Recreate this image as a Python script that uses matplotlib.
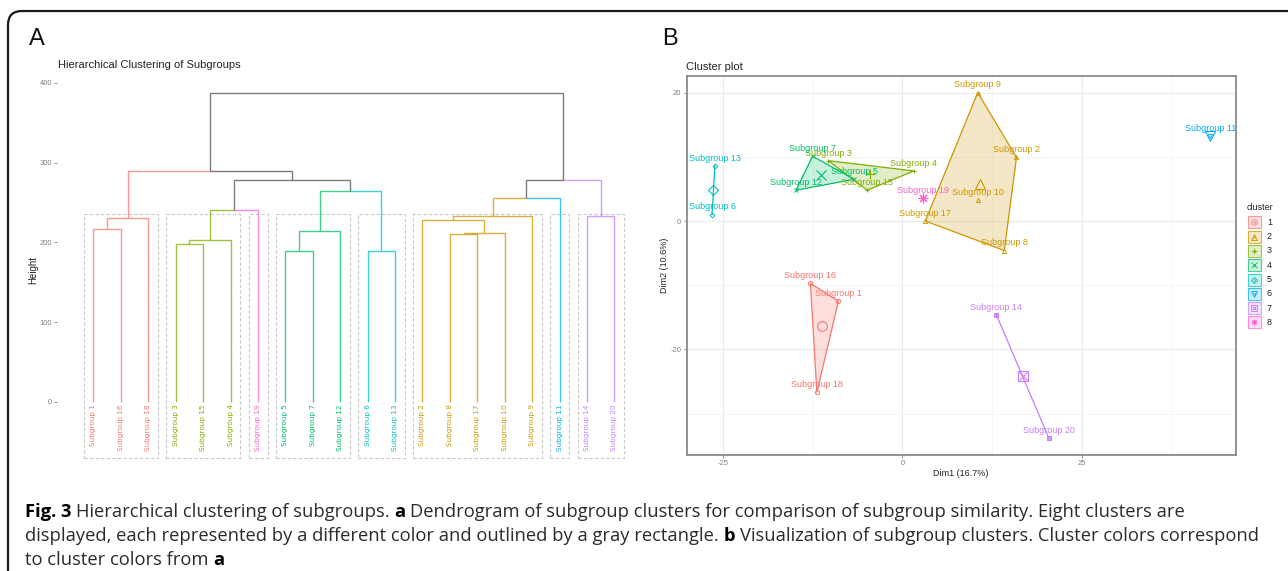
import numpy as np
import matplotlib.pyplot as plt
from matplotlib.patches import FancyBboxPatch, Rectangle, Polygon

plt.rcParams['axes.unicode_minus'] = False

## DATA
# cluster colours (ggplot hue palette, 8 clusters)
palette = {1: '#F8766D', 2: '#CD9600', 3: '#7CAE00', 4: '#00BE67',
           5: '#00BFC4', 6: '#00A9FF', 7: '#C77CFF', 8: '#FF61CC'}

# dendrogram: leaves in plotting order + their cluster
leaf_labels = ['Subgroup 1', 'Subgroup 16', 'Subgroup 18', 'Subgroup 3', 'Subgroup 15',
               'Subgroup 4', 'Subgroup 19', 'Subgroup 5', 'Subgroup 7', 'Subgroup 12',
               'Subgroup 6', 'Subgroup 13', 'Subgroup 2', 'Subgroup 8', 'Subgroup 17',
               'Subgroup 10', 'Subgroup 9', 'Subgroup 11', 'Subgroup 14', 'Subgroup 20']
leaf_cluster = [1, 1, 1, 3, 3, 3, 8, 4, 4, 4, 5, 5, 2, 2, 2, 2, 2, 6, 7, 7]
# merges (left node, right node, height); leaves are 0..19, new nodes numbered from 20
merges = [(0, 1, 217), (20, 2, 231), (3, 4, 197.5), (22, 5, 203), (23, 6, 240),
          (7, 8, 189.5), (25, 9, 214), (10, 11, 189.5), (26, 27, 264), (24, 28, 278),
          (21, 29, 290), (13, 14, 210), (31, 15, 212), (12, 32, 228), (33, 16, 233),
          (34, 17, 256), (18, 19, 233), (35, 36, 278), (30, 37, 387)]
height_ticks = [0, 100, 200, 300, 400]

# cluster plot (PCA coords), subgroups 1..20
sub_labels = ['Subgroup %d' % i for i in range(1, 21)]
dim1 = [-8.9, 15.9, -10.3, 1.6, -6.7, -26.5, -12.5, 14.2, 10.5, 10.5,
        42.9, -14.8, -26.1, 13.1, -4.9, -12.8, 3.2, -11.9, 2.9, 20.4]
dim2 = [-12.5, 9.9, 9.4, 7.8, 6.5, 1.0, 10.1, -4.6, 20.0, 3.2,
        13.2, 4.8, 8.6, -14.6, 4.8, -9.7, 0.0, -26.7, 3.6, -33.8]
sub_cluster = [1, 2, 3, 3, 4, 5, 4, 2, 2, 2, 6, 4, 5, 7, 3, 1, 2, 1, 8, 7]
x_ticks = [-25, 0, 25]
y_ticks = [-20, 0, 20]

caption = [
    [('Fig. 3', 'bold'), ('Hierarchical clustering of subgroups.', 'normal'), ('a', 'bold'),
     ('Dendrogram of subgroup clusters for comparison of subgroup similarity. Eight clusters are', 'normal')],
    [('displayed, each represented by a different color and outlined by a gray rectangle.', 'normal'),
     ('b', 'bold'), ('Visualization of subgroup clusters. Cluster colors correspond', 'normal')],
    [('to cluster colors from', 'normal'), ('a', 'bold')],
]

shapes = {1: 'o', 2: '^', 3: '+', 4: 'x', 5: 'D', 6: 'v', 7: 's', 8: (8, 2, 0)}

W, H = 1288, 571
fig = plt.figure(figsize=(W / 100, H / 100), dpi=100)


def frac(x0, y0, x1, y1):
    # pixel box (top-left origin) -> figure fraction
    return [x0 / W, 1 - y1 / H, (x1 - x0) / W, (y1 - y0) / H]


# background / frame layer in pixel coordinates
bg = fig.add_axes([0, 0, 1, 1])
bg.set_xlim(0, W)
bg.set_ylim(H, 0)
bg.axis('off')
bg.set_zorder(-1)
bg.add_patch(FancyBboxPatch((8, 11), 1500, 800, boxstyle='round,pad=0,rounding_size=14',
                            fc='white', ec='#1a1a1a', lw=1.6))

sans = 'Liberation Sans'
tick_col = '#808080'

## A - dendrogram
ax1 = fig.add_axes(frac(57, 74.9, 640, 461.5))
ax1.set_facecolor('none')
ax1.set_xlim(-0.3275, 20.934)
ax1.set_ylim(-75, 410)

n = len(leaf_labels)
xpos = {i: i + 1 for i in range(n)}
hgt = {i: 0 for i in range(n)}
members = {i: {leaf_cluster[i]} for i in range(n)}
for k, (a, b, h) in enumerate(merges):
    node = n + k
    xpos[node] = (xpos[a] + xpos[b]) / 2
    hgt[node] = h
    members[node] = members[a] | members[b]
    for c in (a, b):
        col = palette[next(iter(members[c]))] if len(members[c]) == 1 else '#505050'
        ax1.plot([xpos[node], xpos[c], xpos[c]], [h, h, hgt[c]], color=col, lw=1.0,
                 alpha=0.75, solid_capstyle='butt', solid_joinstyle='miter')

# gray dashed boxes round each cluster
start = 0
for i in range(1, n + 1):
    if i == n or leaf_cluster[i] != leaf_cluster[start]:
        ax1.add_patch(Rectangle((start + 1 - 0.34, -71), (i - 1 - start) + 0.7, 236 + 71,
                                fill=False, ec='#c8c8c8', lw=0.8, ls=(0, (3, 2))))
        start = i

for i, lab in enumerate(leaf_labels):
    ax1.text(i + 1, -3, lab, rotation=90, ha='center', va='top', fontsize=5.2,
             color=palette[leaf_cluster[i]], family='DejaVu Sans')

ax1.set_yticks(height_ticks)
ax1.set_yticklabels([str(t) for t in height_ticks], fontsize=5.5, color=tick_col, family=sans)
ax1.tick_params(axis='y', length=2, width=0.6, color=tick_col, pad=1.5)
ax1.set_xticks([])
for s in ax1.spines.values():
    s.set_visible(False)

bg.text(57.7, 68, 'Hierarchical Clustering of Subgroups', fontsize=8, family=sans,
        color='#222222', va='baseline')
bg.text(33.7, 270, 'Height', rotation=90, fontsize=7, family=sans, color='#222222',
        ha='center', va='center')
bg.text(29, 45, 'A', fontsize=17, family=sans, va='baseline', color='#111111')

## B - cluster plot
ax2 = fig.add_axes(frac(686.7, 76, 1235.7, 454.5))
ax2.set_xlim(-30.03, 46.43)
ax2.set_ylim(-36.37, 22.59)
ax2.set_axisbelow(True)
ax2.set_xticks(x_ticks)
ax2.set_yticks(y_ticks)
ax2.set_xticks([-12.5, 12.5, 37.5], minor=True)
ax2.set_yticks([-30, -10, 10], minor=True)
ax2.grid(which='major', color='#ebebeb', lw=0.8)
ax2.grid(which='minor', color='#f2f2f2', lw=0.5)
ax2.tick_params(which='minor', length=0)
ax2.tick_params(which='major', length=2, width=0.6, color=tick_col, labelsize=5.5,
                labelcolor=tick_col, pad=2)
for lab in ax2.get_xticklabels() + ax2.get_yticklabels():
    lab.set_family(sans)
for s in ax2.spines.values():
    s.set_color('#8a8a8a')
    s.set_linewidth(1.3)

d1 = np.array(dim1)
d2 = np.array(dim2)
cl = np.array(sub_cluster)


def hull(pts):
    pts = sorted(map(tuple, pts))

    def cross(o, a, b):
        return (a[0] - o[0]) * (b[1] - o[1]) - (a[1] - o[1]) * (b[0] - o[0])
    lower, upper = [], []
    for p in pts:
        while len(lower) >= 2 and cross(lower[-2], lower[-1], p) <= 0:
            lower.pop()
        lower.append(p)
    for p in reversed(pts):
        while len(upper) >= 2 and cross(upper[-2], upper[-1], p) <= 0:
            upper.pop()
        upper.append(p)
    return lower[:-1] + upper[:-1]


def mark(ax, x, y, c, ms, mew):
    col = palette[c]
    ax.plot(x, y, ls='none', marker=shapes[c], ms=ms * (0.8 if c == 5 else 1), mec=col,
            mfc='none', mew=mew, zorder=4)
    if c == 7:
        ax.plot(x, y, ls='none', marker='x', ms=ms * 0.75, mec=col, mew=mew, zorder=4)


for c in range(1, 9):
    sel = cl == c
    pts = np.column_stack([d1[sel], d2[sel]])
    col = palette[c]
    if len(pts) >= 3:
        hp = hull(pts)
        ax2.add_patch(Polygon(hp, closed=True, fc=col, alpha=0.22, ec='none', zorder=2))
        ax2.add_patch(Polygon(hp, closed=True, fill=False, ec=col, lw=0.9, zorder=3))
    elif len(pts) == 2:
        ax2.plot(pts[:, 0], pts[:, 1], color=col, lw=0.9, zorder=3)
    for x, y in pts:
        mark(ax2, x, y, c, 3, 0.7)
    mark(ax2, pts[:, 0].mean(), pts[:, 1].mean(), c, 7, 0.8)

for x, y, lab, c in zip(d1, d2, sub_labels, cl):
    ax2.annotate(lab, (x, y), xytext=(0, 5.5), textcoords='offset points', ha='center',
                 va='center', fontsize=6.5, color=palette[c], family=sans, zorder=5)

bg.text(686.5, 70, 'Cluster plot', fontsize=8, family=sans, color='#222222', va='baseline')
bg.text(961, 474, 'Dim1 (16.7%)', fontsize=6.5, family=sans, color='#222222',
        ha='center', va='center')
bg.text(665, 265, 'Dim2 (10.6%)', fontsize=6.5, rotation=90, family=sans, color='#222222',
        ha='center', va='center')
bg.text(662, 45, 'B', fontsize=17, family=sans, va='baseline', color='#111111')

# legend
bg.text(1247, 207, 'cluster', fontsize=6.5, family=sans, color='#222222', va='center')
for c in range(1, 9):
    yc = 222.3 + 14.3 * (c - 1)
    col = palette[c]
    bg.add_patch(Rectangle((1248, yc - 6), 13, 12, fc=col, alpha=0.2, ec='none'))
    bg.add_patch(Rectangle((1248, yc - 6), 13, 12, fill=False, ec=col, lw=0.8, alpha=0.7))
    mark(bg, 1254.5, yc, c, 4, 0.6)
    bg.text(1254.5, yc + 0.5, 'a', fontsize=4.5, color=col, ha='center', va='center', family=sans)
    bg.text(1267, yc, str(c), fontsize=6.5, family=sans, color='#222222', va='center')

# caption
capfont = 'Open Sans'
renderer = fig.canvas.get_renderer()


def textw(s, fs, wt):
    t = bg.text(0, 0, s, fontsize=fs, fontweight=wt, family=capfont)
    w = t.get_window_extent(renderer).width
    t.remove()
    return w


def linew(parts, fs):
    sp = textw('a a', fs, 'normal') - textw('aa', fs, 'normal')
    return sum(textw(s, fs, w) for s, w in parts) + sp * (len(parts) - 1)


fs = 11 * 1164 / linew(caption[0], 11)
space = textw('a a', fs, 'normal') - textw('aa', fs, 'normal')
for parts, base in zip(caption, [516.7, 540.7, 565]):
    x = 25
    for s, wt in parts:
        bg.text(x, base, s, fontsize=fs, fontweight=wt, family=capfont, va='baseline',
                color='#000000' if wt == 'bold' else '#2b2b2b')
        x += textw(s, fs, wt) + space

fig.savefig('out.png', dpi=100)
